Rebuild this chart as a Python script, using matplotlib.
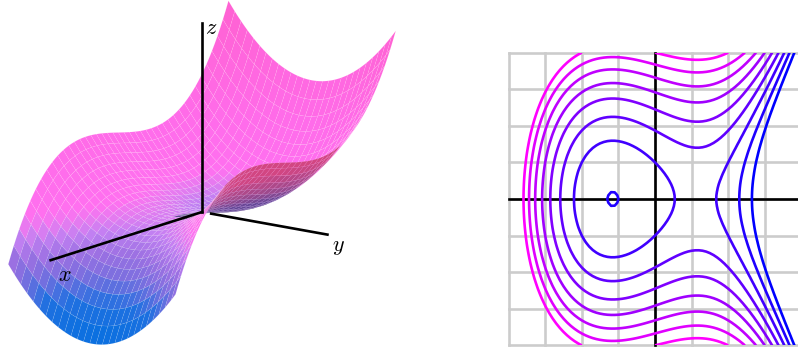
"""Saddle surface and its contour map, side by side."""

import matplotlib
matplotlib.use("Agg")
import matplotlib.pyplot as plt
import numpy as np
from matplotlib.colors import LinearSegmentedColormap, Normalize

plt.rcParams["mathtext.fontset"] = "cm"

NODES = [
    -2.00, -1.95, -1.90, -1.85, -1.80, -1.75, -1.70, -1.65, -1.60, -1.55, -1.50,
    -1.45, -1.40, -1.35, -1.30, -1.25, -1.20, -1.15, -1.10, -1.05, -1.00,
    -0.95, -0.90, -0.85, -0.80, -0.75, -0.70, -0.65, -0.60, -0.55, -0.50,
    -0.45, -0.40, -0.35, -0.30, -0.25, -0.20, -0.15, -0.10, -0.05, 0.00,
    0.05, 0.10, 0.15, 0.20, 0.25, 0.30, 0.35, 0.40, 0.45, 0.50,
    0.55, 0.60, 0.65, 0.70, 0.75, 0.80, 0.85, 0.90, 0.95, 1.00,
    1.05, 1.10, 1.15, 1.20, 1.25, 1.30, 1.35, 1.40, 1.45, 1.50,
    1.55, 1.60, 1.65, 1.70, 1.75, 1.80, 1.85, 1.90, 1.95, 2.00,
]
# height of the surface along y = 0
HEIGHT_ALONG_X = [
    6.0, 5.4649, 4.959, 4.4816, 4.032, 3.6094, 3.213, 2.8421, 2.496, 2.1739, 1.875,
    1.5986, 1.344, 1.1104, 0.897, 0.7031, 0.528, 0.3709, 0.231, 0.1076, 0.0,
    -0.0926, -0.171, -0.2359, -0.288, -0.3281, -0.357, -0.3754, -0.384, -0.3836, -0.375,
    -0.3589, -0.336, -0.3071, -0.273, -0.2344, -0.192, -0.1466, -0.099, -0.0499, 0.0,
    0.0499, 0.099, 0.1466, 0.192, 0.2344, 0.273, 0.3071, 0.336, 0.3589, 0.375,
    0.3836, 0.384, 0.3754, 0.357, 0.3281, 0.288, 0.2359, 0.171, 0.0926, 0.0,
    -0.1076, -0.231, -0.3709, -0.528, -0.7031, -0.897, -1.1104, -1.344, -1.5986, -1.875,
    -2.1739, -2.496, -2.8421, -3.213, -3.6094, -4.032, -4.4816, -4.959, -5.4649, -6.0,
]
# rise of the surface along x = 0
HEIGHT_ALONG_Y = [
    4.0, 3.8025, 3.61, 3.4225, 3.24, 3.0625, 2.89, 2.7225, 2.56, 2.4025, 2.25,
    2.1025, 1.96, 1.8225, 1.69, 1.5625, 1.44, 1.3225, 1.21, 1.1025, 1.0,
    0.9025, 0.81, 0.7225, 0.64, 0.5625, 0.49, 0.4225, 0.36, 0.3025, 0.25,
    0.2025, 0.16, 0.1225, 0.09, 0.0625, 0.04, 0.0225, 0.01, 0.0025, 0.0,
    0.0025, 0.01, 0.0225, 0.04, 0.0625, 0.09, 0.1225, 0.16, 0.2025, 0.25,
    0.3025, 0.36, 0.4225, 0.49, 0.5625, 0.64, 0.7225, 0.81, 0.9025, 1.0,
    1.1025, 1.21, 1.3225, 1.44, 1.5625, 1.69, 1.8225, 1.96, 2.1025, 2.25,
    2.4025, 2.56, 2.7225, 2.89, 3.0625, 3.24, 3.4225, 3.61, 3.8025, 4.0,
]
LEVELS = [-1.0, -0.375, 0.25, 0.875, 1.5, 2.125, 2.75, 3.375, 4.0]
GRID_TICKS = [-2.0, -1.5, -1.0, -0.5, 0.0, 0.5, 1.0, 1.5, 2.0]

# height -> colour stops, upper side then underside
COLOR_HEIGHTS = [-6.0, -3.5, -2.0, -1.0, 0.0, 0.6, 1.3, 4.0, 10.0]
COLOR_VALUES = ["#0070e0", "#1e70e0", "#7a6fdf", "#9a70e2", "#c080f2",
                "#e27cf0", "#ff70f0", "#ff6cea", "#ff62d4"]
UNDER_HEIGHTS = [-6.0, 0.5, 1.5, 3.0, 10.0]
UNDER_VALUES = ["#644696", "#644696", "#a04a8c", "#d24682", "#d24682"]

W, H = 798, 349


def palette(name, heights, values):
    norm = Normalize(heights[0], heights[-1])
    stops = [norm(v) for v in heights]
    return LinearSegmentedColormap.from_list(name, list(zip(stops, values))), norm


def surface_colors(x, y, z, view):
    cmap, norm = palette("top", COLOR_HEIGHTS, COLOR_VALUES)
    colors = cmap(norm(z))
    under_cmap, under_norm = palette("under", UNDER_HEIGHTS, UNDER_VALUES)
    under = under_cmap(under_norm(z))
    # the side seen from below is darker, only the y > 0 flank shows it
    gx, gy = np.gradient(z, x, y)
    facing = -gx * view[0] - gy * view[1] + view[2]
    dark = (facing < 0) & (y[None, :] > -0.05)
    colors[dark] = under[dark]
    return colors


def draw_surface(fig, x, y, z):
    size = 400
    left, bottom_from_top = -3.4, 385.2
    ax = fig.add_axes(
        [left / W, (H - bottom_from_top) / H, size / W, size / H],
        projection="3d",
        proj_type="ortho",
        computed_zorder=False,
    )
    ax.set_axis_off()
    ax.patch.set_alpha(0)
    elev, azim = 13.85, 36.95
    ax.view_init(elev=elev, azim=azim)
    ax.set_xlim(-2, 2, view_margin=0)
    ax.set_ylim(-2, 2, view_margin=0)
    ax.set_zlim(-6, 10, view_margin=0)
    aspect = np.array([1.694, 0.968, 1.228])
    ax.set_box_aspect(aspect, zoom=np.linalg.norm(aspect) / (1.8294640721620434 * 25 / 24))

    e, a = np.radians(elev), np.radians(azim)
    view = (np.cos(e) * np.cos(a), np.cos(e) * np.sin(a), np.sin(e))
    xx, yy = np.meshgrid(x, y, indexing="ij")
    surf = ax.plot_surface(
        xx, yy, z,
        facecolors=surface_colors(x, y, z, view),
        rstride=2, cstride=3, shade=False, linewidth=0.3, antialiased=True, zorder=1,
    )
    surf.set_edgecolor((1, 1, 1, 0.16))

    ax.plot([0, 2.75], [0, 0], [0, 0], color="black", lw=1.9, zorder=3)
    ax.plot([0, 0], [0.22, 3.0], [0, 0], color="black", lw=1.9, zorder=3)
    ax.plot([0, 0], [0, 0], [0, 11.75], color="black", lw=1.9, zorder=3)

    fig.text(65 / W, 1 - 275 / H, "$x$", fontsize=16, ha="center", va="center")
    fig.text(338 / W, 1 - 247 / H, "$y$", fontsize=16, ha="center", va="center")
    fig.text(211 / W, 1 - 28 / H, "$z$", fontsize=16, ha="center", va="center")


def draw_contours(fig, x, y, z):
    ax = fig.add_axes([508.6 / W, (H - 345.4) / H, 292.8 / W, 292.8 / H])
    ax.set_xlim(-2, 2)
    ax.set_ylim(-2, 2)
    ax.set_xticks(GRID_TICKS)
    ax.set_yticks(GRID_TICKS)
    ax.tick_params(length=0, labelbottom=False, labelleft=False)
    for spine in ax.spines.values():
        spine.set_visible(False)
    ax.grid(color="#cccccc", linewidth=1.9)
    for line in ax.get_xgridlines() + ax.get_ygridlines():
        line.set_clip_on(False)
    ax.set_axisbelow(True)
    ax.axhline(0, color="black", lw=1.9, zorder=2, clip_on=False)
    ax.axvline(0, color="black", lw=1.9, zorder=2, clip_on=False)
    cmap = LinearSegmentedColormap.from_list("lines", ["#0000ff", "#ff00ff"])
    ax.contour(x, y, z.T, levels=LEVELS, cmap=cmap, linewidths=1.9, zorder=3)


def main():
    x = np.array(NODES)
    y = np.array(NODES)
    z = np.add.outer(np.array(HEIGHT_ALONG_X), np.array(HEIGHT_ALONG_Y))
    fig = plt.figure(figsize=(W / 100, H / 100), dpi=100)
    draw_surface(fig, x, y, z)
    draw_contours(fig, x, y, z)
    fig.savefig("out.png", dpi=100)


if __name__ == "__main__":
    main()
